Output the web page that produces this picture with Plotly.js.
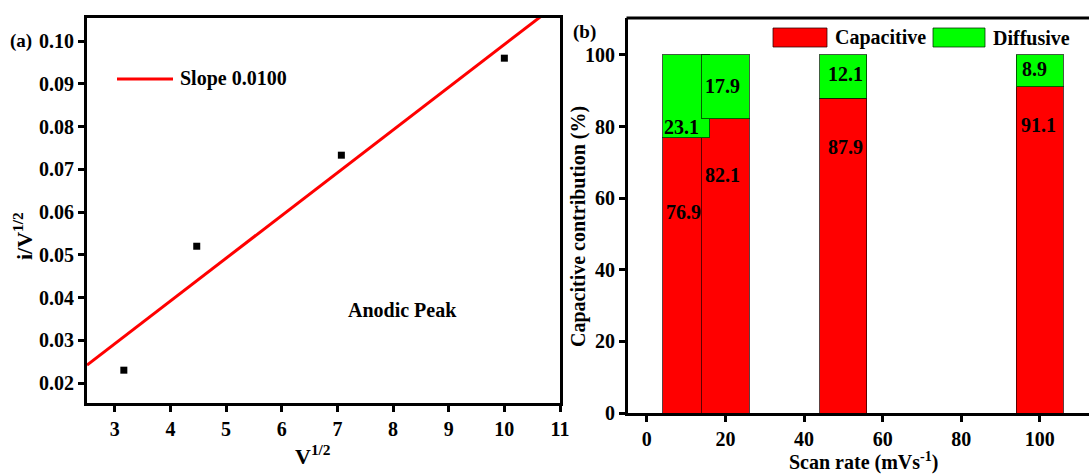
<!DOCTYPE html>
<html>
<head>
<meta charset="utf-8">
<script src="https://cdn.plot.ly/plotly-3.0.1.min.js"></script>
<style>html,body{margin:0;padding:0;background:#fff;}#chart{width:1089px;height:475px;}</style>
</head>
<body>
<div id="chart"></div>
<script>
// ---- Panel (a) data ----
const sqrtScanRate = [3.162, 4.472, 7.071, 10.0];     // V^1/2
const peakRatio = [0.023, 0.052, 0.0733, 0.096];       // i/V^1/2
const fitSlope = 0.0100;
const fitIntercept = -0.0008;
const fitXRange = [2.5, 11];

// ---- Panel (b) data ----
const scanRates = [10, 20, 50, 100];                   // mV/s
const capacitive = [76.9, 82.1, 87.9, 91.1];           // %
const diffusive = [23.1, 17.9, 12.1, 8.9];             // %
const xTicks = [0, 20, 40, 60, 80, 100];
const yTicks = [0, 20, 40, 60, 80, 100];

// ---- layout helpers ----
const W = 1089, H = 475;
const px = x => x / W;
const py = y => 1 - y / H;
const FONT = "Liberation Serif";

// label placement (layout only)
const capLabelY = [56, 66.5, 74.3, 80.4];
const difLabelY = [80, 91.3, 94.7, 96];
const labelXShift = [-3, -3, 2, -1];
const difLabelXShift = [-5, -3, 2, -5];

const fitY = fitXRange.map(x => fitSlope * x + fitIntercept);

const traces = [
  {
    x: fitXRange, y: fitY, xaxis: 'x', yaxis: 'y',
    mode: 'lines', line: {color: '#ff0000', width: 3},
    name: 'Slope ' + fitSlope.toFixed(4), showlegend: false, hoverinfo: 'skip'
  },
  {
    x: sqrtScanRate, y: peakRatio, xaxis: 'x', yaxis: 'y',
    mode: 'markers', marker: {symbol: 'square', size: 7, color: '#000'},
    showlegend: false
  },
  {
    type: 'bar', x: scanRates, y: capacitive, xaxis: 'x2', yaxis: 'y2',
    width: 12, name: 'Capacitive',
    marker: {color: '#ff0000', line: {color: 'rgba(40,0,0,0.75)', width: 1}},
    showlegend: false
  },
  {
    type: 'bar', x: scanRates, y: diffusive, xaxis: 'x2', yaxis: 'y2',
    width: 12, name: 'Diffusive',
    marker: {color: '#00ff00', line: {color: 'rgba(0,40,0,0.75)', width: 1}},
    showlegend: false
  }
];

const tickFont = {family: FONT, size: 20, color: '#000', weight: 'bold'};
const annFont = (s) => ({family: FONT, size: s, color: '#000', weight: 'bold'});

const annotations = [];
// bar labels
scanRates.forEach((r, i) => {
  annotations.push({x: r, y: capLabelY[i], xref: 'x2', yref: 'y2', text: '<b>' + capacitive[i].toFixed(1) + '</b>',
    showarrow: false, font: annFont(20), xanchor: 'center', yanchor: 'middle', xshift: labelXShift[i]});
  annotations.push({x: r, y: difLabelY[i], xref: 'x2', yref: 'y2', text: '<b>' + diffusive[i].toFixed(1) + '</b>',
    showarrow: false, font: annFont(20), xanchor: 'center', yanchor: 'middle', xshift: difLabelXShift[i]});
});
// titles & labels as paper annotations
const paperAnn = (x, y, text, size, opts) => Object.assign({
  x: px(x), y: py(y), xref: 'paper', yref: 'paper', text: '<b>' + text + '</b>', showarrow: false,
  font: annFont(size), xanchor: 'center', yanchor: 'middle'}, opts || {});
annotations.push(paperAnn(21, 41, '(a)', 19));
annotations.push(paperAnn(584, 32, '(b)', 19));
annotations.push(paperAnn(23, 236, 'i/V<sup>1/2</sup>', 22, {textangle: -90}));
annotations.push(paperAnn(313, 455, 'V<sup>1/2</sup>', 22));
annotations.push(paperAnn(578, 227, 'Capacitive contribution (%)', 20, {textangle: -90}));
annotations.push(paperAnn(863, 461, 'Scan rate (mVs<sup>-1</sup>)', 20));
annotations.push(paperAnn(402, 310, 'Anodic Peak', 20));
// legends
annotations.push(paperAnn(178, 79, 'Slope ' + fitSlope.toFixed(4), 20, {xanchor: 'left'}));
annotations.push(paperAnn(833, 38, 'Capacitive', 20, {xanchor: 'left'}));
annotations.push(paperAnn(991, 38, 'Diffusive', 20, {xanchor: 'left'}));

const shapes = [
  {type: 'line', xref: 'paper', yref: 'paper', x0: px(117), x1: px(173), y0: py(79), y1: py(79),
    line: {color: '#ff0000', width: 3}},
  {type: 'rect', xref: 'paper', yref: 'paper', x0: px(773), x1: px(827), y0: py(47), y1: py(28),
    fillcolor: '#ff0000', line: {color: 'rgba(40,0,0,0.75)', width: 1}},
  {type: 'rect', xref: 'paper', yref: 'paper', x0: px(933), x1: px(985), y0: py(47), y1: py(28),
    fillcolor: '#00ff00', line: {color: 'rgba(0,40,0,0.75)', width: 1}},
  // top frame line of panel (b)
  {type: 'line', xref: 'paper', yref: 'paper', x0: px(626.5), x1: 1, y0: py(18), y1: py(18),
    line: {color: '#000', width: 3}}
];

const commonAxis = {
  showgrid: false, zeroline: false, showline: true, linecolor: '#000', linewidth: 3,
  ticks: 'outside', ticklen: 6, tickwidth: 3, tickcolor: '#000', tickfont: tickFont,
  automargin: false, fixedrange: true
};

const fmtTicks = (vals, d) => vals.map(v => '<b>' + v.toFixed(d) + '</b>');
const aX = [3, 4, 5, 6, 7, 8, 9, 10, 11];
const aY = [0.02, 0.03, 0.04, 0.05, 0.06, 0.07, 0.08, 0.09, 0.10];

const layout = {
  width: W, height: H,
  margin: {l: 0, r: 0, t: 0, b: 0, pad: 0},
  paper_bgcolor: '#fff', plot_bgcolor: '#fff',
  barmode: 'stack',
  showlegend: false,
  font: {family: FONT, color: '#000', size: 20},
  xaxis: Object.assign({}, commonAxis, {domain: [px(87), px(560)], range: [2.5, 11], anchor: 'y',
    tickvals: aX, ticktext: fmtTicks(aX, 0), mirror: true}),
  yaxis: Object.assign({}, commonAxis, {domain: [py(403), py(18)], range: [0.01532, 0.1054], anchor: 'x',
    tickvals: aY, ticktext: fmtTicks(aY, 2), mirror: true}),
  xaxis2: Object.assign({}, commonAxis, {domain: [px(628), 1], range: [-4.8, 112.5], anchor: 'y2',
    tickvals: xTicks, ticktext: fmtTicks(xTicks, 0), mirror: false}),
  yaxis2: Object.assign({}, commonAxis, {domain: [py(413), py(18)], range: [0, 110.3], anchor: 'x2',
    tickvals: yTicks, ticktext: fmtTicks(yTicks, 0), mirror: false}),
  annotations: annotations,
  shapes: shapes
};

Plotly.newPlot('chart', traces, layout, {displayModeBar: false, staticPlot: true});
</script>
</body>
</html>
